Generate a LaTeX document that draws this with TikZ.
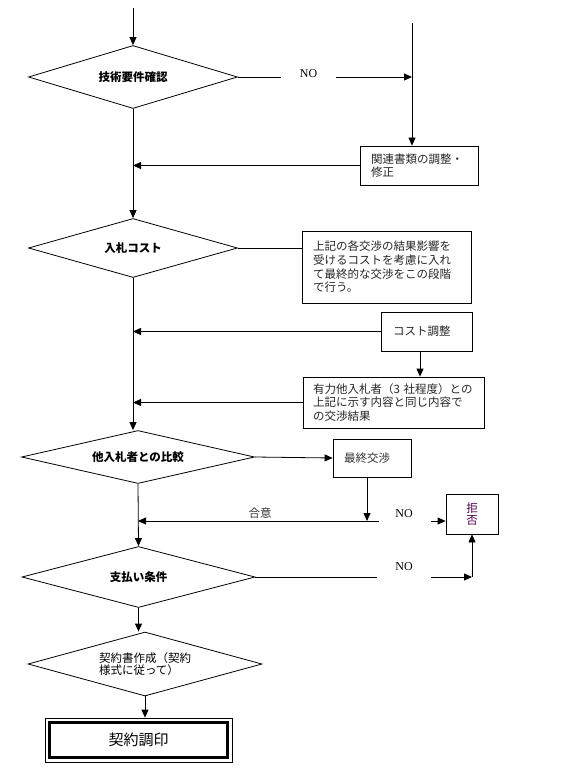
\documentclass[tikz,border=0pt]{standalone}
\usepackage{fontspec}
\setmainfont{Liberation Serif}
\newfontfamily\jp{Noto Sans CJK JP}
\usetikzlibrary{shapes.geometric,arrows.meta}
\begin{document}
\begin{tikzpicture}[x=1pt,y=-1pt,
  line width=0.8pt,
  arr/.style={-{Triangle[length=8pt,width=7pt]}},
  dia/.style={draw, shape=diamond, aspect=3.6, inner sep=0pt, align=left,
    font=\jp\fontsize{11.5}{12.5}\selectfont},
  tbox/.style={draw, rectangle, inner xsep=11pt, inner ysep=0pt, align=left,
    text=black!85, font=\jp\fontsize{11.5}{13.7}\selectfont},
  cbox/.style={draw, rectangle, inner sep=0pt, align=center,
    text=black!80, font=\jp\fontsize{11.5}{12}\selectfont},
  nolab/.style={inner sep=0pt, minimum width=54pt, font=\fontsize{12}{14}\selectfont},
  plain/.style={inner sep=0pt, font=\jp\fontsize{11.5}{13}\selectfont, text=black!80},
]
\useasboundingbox (0,0) rectangle (560,770);

% decisions
\node[dia, minimum width=209pt, minimum height=63pt] (d1) at (133,77) {\bfseries 技術要件確認};
\node[dia, minimum width=209pt, minimum height=59pt] (d2) at (133,248) {\bfseries 入札コスト};
\node[dia, minimum width=233pt, minimum height=53pt] (d3) at (138,457) {\bfseries 他入札者との比較};
\node[dia, minimum width=233pt, minimum height=61pt] (d4) at (138.5,577) {\bfseries 支払い条件};
\node[dia, minimum width=234pt, minimum height=64pt] (d5) at (145,664) {契約書作成（契約\\様式に従って）};

% boxes
\node[tbox, minimum width=118pt, minimum height=39pt, text width=96pt] (b1) at (419,165.5)
  {関連書類の調整・\\修正};
\node[tbox, minimum width=169pt, minimum height=72pt, text width=147pt] (b2) at (386.5,267)
  {上記の各交渉の結果影響を\\受けるコストを考慮に入れ\\て最終的な交渉をこの段階\\で行う。};
\node[tbox, inner xsep=12pt, minimum width=91pt, minimum height=39pt, text width=67pt] (cost) at (426.5,331.5)
  {コスト調整};
\node[tbox, inner xsep=10pt, minimum width=181pt, minimum height=51pt, text width=161pt] (b3) at (393.5,402.5)
  {有力他入札者（3 社程度）との\\上記に示す内容と同じ内容で\\の交渉結果};
\node[cbox, minimum width=78pt, minimum height=38pt] (fin) at (372,458) {最終交渉\hspace*{10pt}};
\node[cbox, minimum width=52pt, minimum height=40pt, text=violet!60!black] (rej) at (472,514) {拒\\否};
\node[draw, rectangle, inner sep=0pt, minimum width=187pt, minimum height=44pt,
  font=\jp\fontsize{15}{16}\selectfont] (sign) at (138.5,740) {契約調印};
\draw[line width=3pt] ([shift={(4.5pt,-4.5pt)}]sign.north west) rectangle ([shift={(-4.5pt,4.5pt)}]sign.south east);

% labels
\node[nolab] (no1) at (308.5,74) {NO};
\node[nolab] (no2) at (404,514) {NO};
\node[nolab] (no3) at (404,567) {NO};
\node[plain] (agree) at (260,513) {合意};

% helper coordinates
\coordinate (top) at (133,8);
\coordinate (tr) at (412,23);
\coordinate (cx) at (420,0);
\coordinate (fx) at (367,0);
\coordinate (agR) at (379,521);

% main flow
\draw[arr] (top) -- (d1.north);
\draw[arr] (d1.south) -- (d2.north);
\draw[arr] (d2.south) -- (d2.south |- d3.north);
\draw[arr] (d3.south) -- (d4.north);
\draw[arr] (d4.south) -- (d4.south |- d5.north);
\draw[arr] (d5.south) -- (d5.south |- sign.north);

% technical check branch
\draw (d1.east) -- (no1.west |- d1.east);
\draw[arr] (no1.east |- d1.east) -- (tr |- d1.east);
\draw[arr] (tr) -- (tr |- b1.north);
\draw[arr] (b1.west) -- (b1.west -| d1.south);

% cost branch
\draw (d2.east) -- (d2.east -| b2.west);
\draw[arr] (cost.west) -- (cost.west -| d2.south);
\draw[arr] (cost.south -| cx) -- (b3.north -| cx);
\draw[arr] (b3.west) -- (b3.west -| d2.south);

% comparison branch
\draw[arr] (d3.east) -- (fin.west);
\draw[arr] (fin.south -| fx) -- (agR -| fx);
\draw[arr] (agR) -- (agR -| d3.south);
\draw[arr] (no2.east |- agR) -- (rej.west |- agR);

% payment branch
\draw (d4.east) -- (no3.west |- d4.east);
\draw[arr] (no3.east |- d4.east) -- (rej.south |- d4.east);
\draw[arr] (rej.south |- d4.east) -- (rej.south);
\end{tikzpicture}
\end{document}
